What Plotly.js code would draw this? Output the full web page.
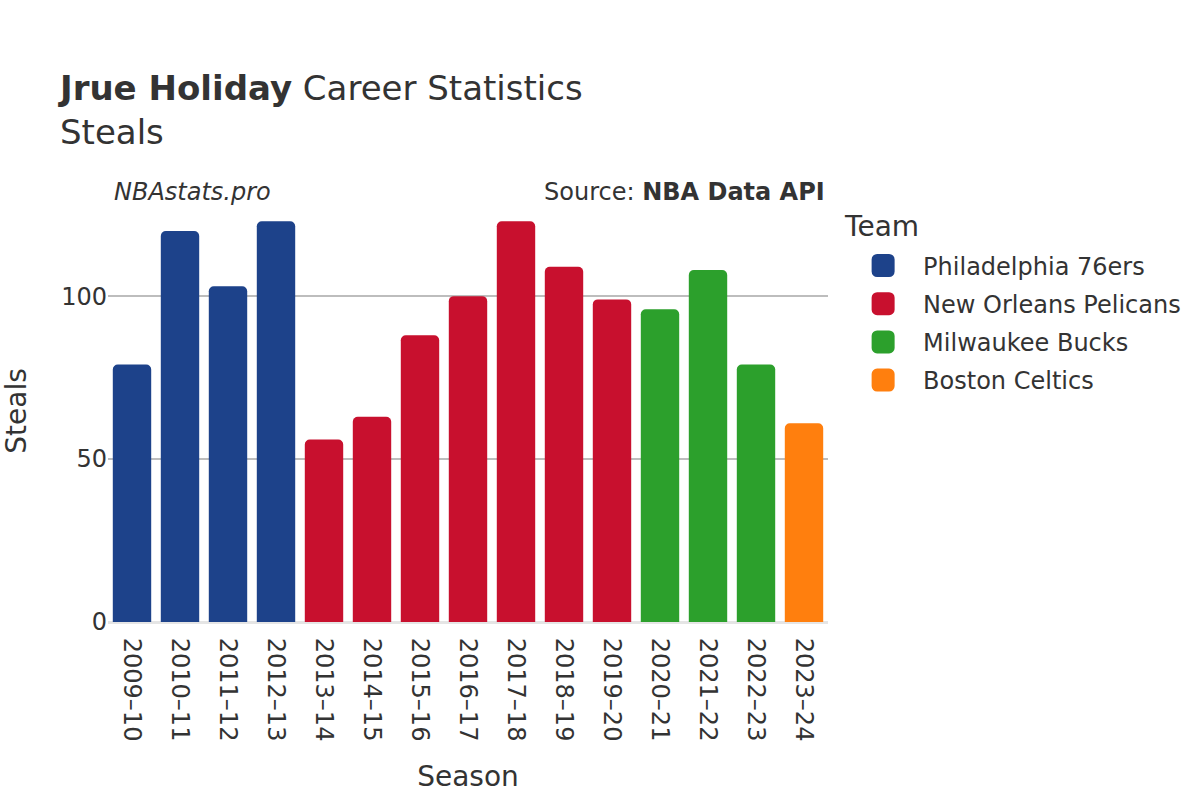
<!DOCTYPE html>
<html><head><meta charset="utf-8">
<script src="https://cdn.plot.ly/plotly-3.0.1.min.js"></script>
<style>body{margin:0;}#chart{width:1200px;height:800px;}</style>
</head><body><div id="chart"></div>
<script>
const seasons = ["2009–10","2010–11","2011–12","2012–13","2013–14","2014–15","2015–16","2016–17","2017–18","2018–19","2019–20","2020–21","2021–22","2022–23","2023–24"];
const steals = [79,120,103,123,56,63,88,100,123,109,99,96,108,79,61];
const teams = ["Philadelphia 76ers","Philadelphia 76ers","Philadelphia 76ers","Philadelphia 76ers","New Orleans Pelicans","New Orleans Pelicans","New Orleans Pelicans","New Orleans Pelicans","New Orleans Pelicans","New Orleans Pelicans","New Orleans Pelicans","Milwaukee Bucks","Milwaukee Bucks","Milwaukee Bucks","Boston Celtics"];
const teamOrder = ["Philadelphia 76ers","New Orleans Pelicans","Milwaukee Bucks","Boston Celtics"];
const teamColors = {"Philadelphia 76ers":"#1d428a","New Orleans Pelicans":"#c8102e","Milwaukee Bucks":"#2ca02c","Boston Celtics":"#ff7f0e"};

const traces = teamOrder.map(t => {
  const xs = [], ys = [];
  seasons.forEach((s,i) => { if (teams[i] === t) { xs.push(s); ys.push(steals[i]); } });
  return {type:"bar", name:t, legendgroup:t, x:xs, y:ys, marker:{color:teamColors[t]}};
});

const FONT = "DejaVu Sans, sans-serif";
const layout = {
  width:1200, height:800,
  paper_bgcolor:"#fff", plot_bgcolor:"#fff",
  font:{family:FONT, color:"#333", size:24},
  title:{text:"<b>Jrue Holiday</b> Career Statistics<br>Steals", x:0.05, xanchor:"left", yref:"container", y:0.875, yanchor:"top",
         font:{family:FONT, size:34, color:"#333"}},
  margin:{l:108, r:372, t:200, b:178},
  barmode:"group", bargap:0.2, barcornerradius:5,
  xaxis:{title:{text:"Season", font:{size:28}, standoff:25}, tickangle:90, categoryorder:"array", categoryarray:seasons,
         tickfont:{size:24}, showgrid:false, zeroline:false, ticks:"outside", ticklen:10, tickcolor:"rgba(0,0,0,0)"},
  yaxis:{title:{text:"Steals", font:{size:28}, standoff:32}, tickfont:{size:24}, showgrid:true, gridcolor:"#bdbdbd", gridwidth:1.5,
         zeroline:true, zerolinecolor:"#e5e5e5", zerolinewidth:3, tickvals:[0,50,100], range:[0,129.5]},
  legend:{title:{text:"Team", font:{size:28}}, x:1.021, xanchor:"left", y:0.9834, yanchor:"top", font:{size:24},
          itemwidth:70, tracegroupgap:4},
  annotations:[
    {text:"<i>NBAstats.pro</i>", xref:"paper", yref:"paper", x:0.005, y:1.019, xanchor:"left", yanchor:"middle", showarrow:false,
     font:{family:FONT, size:24, color:"#333"}},
    {text:"Source: <b>NBA Data API</b>", xref:"paper", yref:"paper", x:0.998, y:1.019, xanchor:"right", yanchor:"middle", showarrow:false,
     font:{family:FONT, size:24, color:"#333"}}
  ]
};
Plotly.newPlot("chart", traces, layout, {displayModeBar:false}).then(gd => {
  const h = 11.5, r = 5.5;
  const d = `M${-h+r},${-h}H${h-r}A${r},${r} 0 0 1 ${h},${-h+r}V${h-r}A${r},${r} 0 0 1 ${h-r},${h}H${-h+r}A${r},${r} 0 0 1 ${-h},${h-r}V${-h+r}A${r},${r} 0 0 1 ${-h+r},${-h}Z`;
  gd.querySelectorAll('.legend .legendpoints path').forEach(p => p.setAttribute('d', d));
  const tt = gd.querySelector('.legend .legendtitletext');
  if (tt) tt.setAttribute('transform', 'translate(0,-7)');
});
</script></body></html>
